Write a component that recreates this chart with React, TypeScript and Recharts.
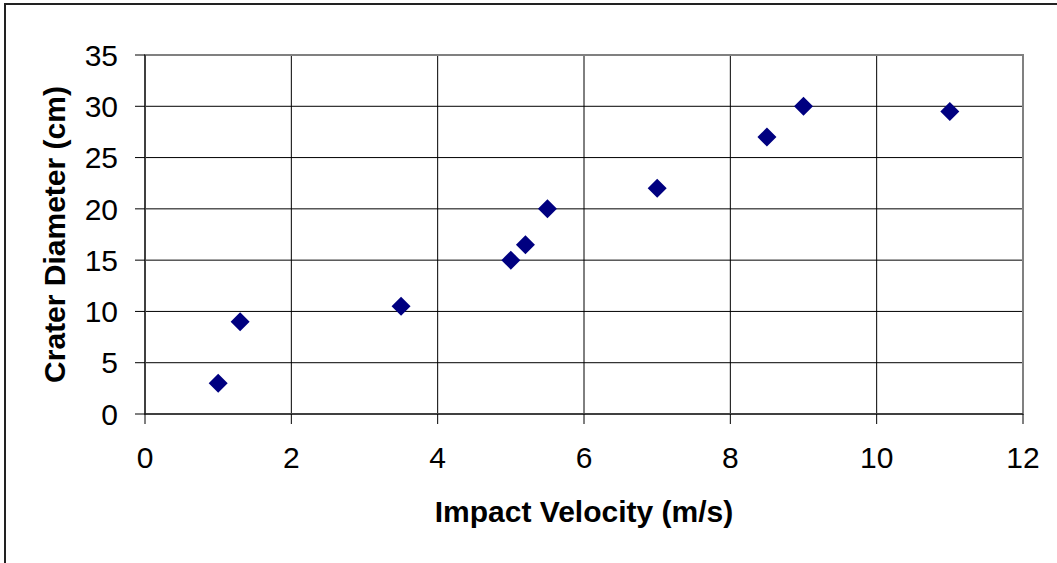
import {
  ScatterChart, Scatter, XAxis, YAxis, CartesianGrid, ReferenceArea, Label,
} from "recharts";

// impact velocity (m/s) vs crater diameter (cm)
const velocity = [1, 1.3, 3.5, 5, 5.2, 5.5, 7, 8.5, 9, 11];
const diameter = [3, 9, 10.5, 15, 16.5, 20, 22, 27, 30, 29.5];
const xTicks = [0, 2, 4, 6, 8, 10, 12];
const yTicks = [0, 5, 10, 15, 20, 25, 30, 35];

const FONT = "'Liberation Sans', Arial, Helvetica, sans-serif";

const points = velocity.map((v, i) => ({ v, d: diameter[i] }));

function Diamond(props: any) {
  const { cx, cy } = props;
  const r = 9.5;
  return (
    <polygon
      points={`${cx},${cy - r} ${cx + r},${cy} ${cx},${cy + r} ${cx - r},${cy}`}
      fill="#000080"
    />
  );
}

export default function App() {
  return (
    <div style={{ position: "fixed", left: 0, top: 0, width: 1057, height: 563, overflow: "hidden", background: "#fff" }}>
      {/* outer chart frame, only left/top edge visible */}
      <div style={{ position: "absolute", left: 4, top: 3, width: 1200, height: 700, borderLeft: "2px solid #222", borderTop: "2px solid #222" }} />
      <div style={{ position: "absolute", left: 0, top: 0 }}>
        <ScatterChart width={1057} height={563} margin={{ top: 55, right: 34, bottom: 29, left: 5 }}>
          <CartesianGrid stroke="#000" strokeWidth={1} horizontalValues={yTicks} verticalValues={xTicks} />
          <ReferenceArea x1={0} x2={12} y1={0} y2={35} fill="none" stroke="#808080" strokeWidth={2} />
          <XAxis
            type="number"
            dataKey="v"
            domain={[0, 12]}
            ticks={xTicks}
            height={120}
            tickSize={10}
            tickMargin={23}
            stroke="#000"
            tick={{ fill: "#000", fontSize: 30, fontFamily: FONT }}
          >
            <Label
              value="Impact Velocity (m/s)"
              position="insideBottom"
              offset={12}
              style={{ fill: "#000", fontSize: 30, fontWeight: 700, fontFamily: FONT }}
            />
          </XAxis>
          <YAxis
            type="number"
            dataKey="d"
            domain={[0, 35]}
            ticks={yTicks}
            width={140}
            tickSize={10}
            tickMargin={17}
            stroke="#000"
            tick={{ fill: "#000", fontSize: 30, fontFamily: FONT }}
          >
            <Label
              value="Crater Diameter (cm)"
              angle={-90}
              position="insideLeft"
              offset={49}
              style={{ textAnchor: "middle", fill: "#000", fontSize: 30, fontWeight: 700, fontFamily: FONT }}
            />
          </YAxis>
          <Scatter data={points} shape={Diamond} isAnimationActive={false} />
        </ScatterChart>
      </div>
    </div>
  );
}
